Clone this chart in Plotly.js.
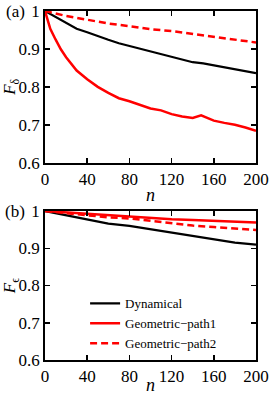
<!DOCTYPE html>
<html>
<head>
<meta charset="utf-8">
<script src="https://cdn.plot.ly/plotly-3.0.1.min.js"></script>
<style>html,body{margin:0;padding:0;background:#fff;}#chart{width:275px;height:395px;}</style>
</head>
<body>
<div id="chart"></div>
<script>
// Panel (a): F_delta
const nA_dyn = [0,10,20,30,40,50,60,70,80,90,100,110,120,130,140,150,160,170,180,190,200];
const fA_dyn = [1,0.985,0.968,0.953,0.944,0.933,0.924,0.915,0.908,0.901,0.893,0.886,0.880,0.873,0.865,0.862,0.857,0.853,0.848,0.843,0.836];
const nA_g1 = [0,2,5,10,15,20,30,40,50,60,70,80,90,100,110,120,130,140,148,155,160,170,180,190,200];
const fA_g1 = [1,0.978,0.953,0.925,0.899,0.878,0.843,0.820,0.800,0.784,0.770,0.762,0.752,0.743,0.738,0.728,0.722,0.718,0.725,0.717,0.711,0.705,0.700,0.693,0.684];
const nA_g2 = [0,20,40,60,80,100,120,140,160,180,200];
const fA_g2 = [1,0.987,0.977,0.967,0.960,0.952,0.947,0.940,0.932,0.925,0.917];
// Panel (b): F_epsilon
const nB = [0,20,40,60,80,100,120,140,160,180,200];
const fB_dyn = [1,0.989,0.977,0.966,0.960,0.951,0.940,0.931,0.923,0.915,0.910];
const fB_g1 = [1,0.996,0.992,0.989,0.986,0.982,0.978,0.976,0.974,0.971,0.969];
const fB_g2 = [1,0.994,0.987,0.983,0.980,0.973,0.966,0.961,0.957,0.953,0.949];
const names = ["Dynamical","Geometric\u2212path1","Geometric\u2212path2"];
const xTicks = [0,40,80,120,160,200];
const yTicks = [0.6,0.7,0.8,0.9,1];
const yTickText = ["0.6","0.7","0.8","0.9","1"];

const black = "#000000", red = "#ff0000";
const fontFam = "'Liberation Serif', 'DejaVu Serif', serif";

const traces = [
  {x:nA_dyn, y:fA_dyn, xaxis:"x", yaxis:"y", mode:"lines", line:{color:black,width:2.2}, showlegend:false},
  {x:nA_g1, y:fA_g1, xaxis:"x", yaxis:"y", mode:"lines", line:{color:red,width:2.5}, showlegend:false},
  {x:nA_g2, y:fA_g2, xaxis:"x", yaxis:"y", mode:"lines", line:{color:red,width:2.5,dash:"7px,4px"}, showlegend:false},
  {x:nB, y:fB_dyn, xaxis:"x2", yaxis:"y2", mode:"lines", name:names[0], line:{color:black,width:2.2}},
  {x:nB, y:fB_g1, xaxis:"x2", yaxis:"y2", mode:"lines", name:names[1], line:{color:red,width:2.5}},
  {x:nB, y:fB_g2, xaxis:"x2", yaxis:"y2", mode:"lines", name:names[2], line:{color:red,width:2.5,dash:"7px,4px"}}
];

function xax(anchor){
  return {anchor:anchor, range:[0,200], tickvals:xTicks, ticks:"inside", ticklen:5, tickwidth:1.5,
    tickcolor:black, showline:true, linecolor:black, linewidth:1.8, mirror:"ticks", showgrid:false,
    zeroline:false, tickfont:{family:fontFam,size:17,color:black},
    title:{text:"<i>n</i>", font:{family:fontFam,size:18,color:black}, standoff:0}};
}
function yax(anchor, dom, t){
  return {anchor:anchor, domain:dom, range:[0.6,1], tickvals:yTicks, ticktext:yTickText, ticks:"inside",
    ticklen:5, tickwidth:1.5, tickcolor:black, showline:true, linecolor:black, linewidth:1.8,
    mirror:"ticks", showgrid:false, zeroline:false, tickfont:{family:fontFam,size:17,color:black},
    title:{text:t, font:{family:fontFam,size:17,color:black}, standoff:1}};
}

const layout = {
  width:275, height:395,
  margin:{l:45, r:19, t:11, b:35},
  paper_bgcolor:"#fff", plot_bgcolor:"#fff",
  font:{family:fontFam, color:black},
  xaxis: Object.assign(xax("y"), {domain:[0,1]}),
  yaxis: yax("x", [0.5653,1], "<i>F</i><sub>\u03b4</sub>"),
  xaxis2: Object.assign(xax("y2"), {domain:[0,1]}),
  yaxis2: yax("x2", [0,0.4269], "<i>F</i><sub>\u03f5</sub>"),
  showlegend:true,
  legend:{x:0.19, y:0.205, xanchor:"left", yanchor:"top", bgcolor:"rgba(0,0,0,0)",
    font:{family:fontFam,size:13,color:black}, tracegroupgap:0, itemwidth:30},
  annotations:[
    {text:"(a)", xref:"paper", yref:"paper", x:-0.14, y:1, xanchor:"center", yanchor:"middle", showarrow:false, font:{family:fontFam,size:17,color:black}},
    {text:"(b)", xref:"paper", yref:"paper", x:-0.14, y:0.4269, xanchor:"center", yanchor:"middle", showarrow:false, font:{family:fontFam,size:17,color:black}}
  ]
};

Plotly.newPlot("chart", traces, layout, {displayModeBar:false, staticPlot:true});
</script>
</body>
</html>
